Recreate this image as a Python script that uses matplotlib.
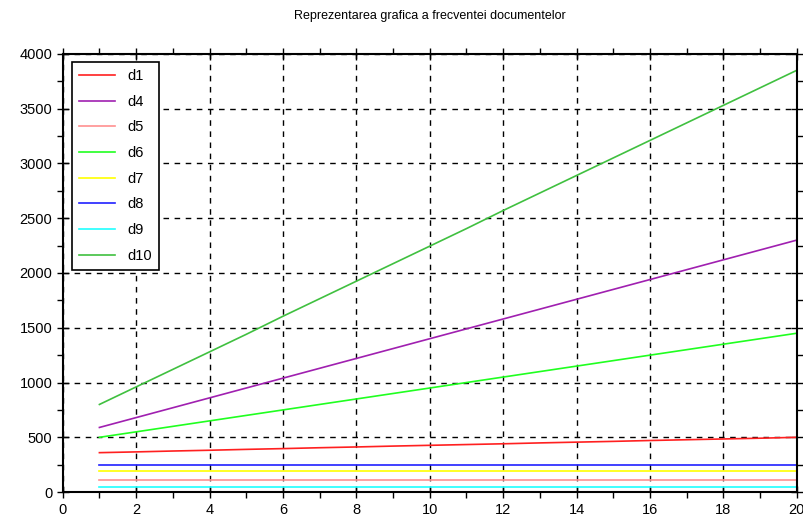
import matplotlib
matplotlib.use("Agg")
import matplotlib.pyplot as plt
from matplotlib.ticker import MultipleLocator

x = list(range(1, 21))
d1 = [360, 367, 375, 382, 390, 397, 405, 412, 420, 427, 434, 441, 449, 456, 463, 471, 478, 485, 492, 500]
d4 = [590, 680, 770, 860, 950, 1040, 1130, 1220, 1310, 1400, 1490, 1580, 1670, 1760, 1850, 1940, 2030, 2120, 2210, 2300]
d5 = [115] * 20
d6 = [500, 550, 600, 650, 700, 750, 800, 850, 900, 950, 1000, 1050, 1100, 1150, 1200, 1250, 1300, 1350, 1400, 1450]
d7 = [197] * 20
d8 = [245] * 20
d9 = [43] * 20
d10 = [800, 960, 1120, 1280, 1440, 1605, 1765, 1925, 2085, 2245, 2405, 2570, 2730, 2890, 3050, 3210, 3370, 3530, 3690, 3850]

series = [("d1", d1, "#ff2020"), ("d4", d4, "#a020b0"), ("d5", d5, "#ff9090"),
          ("d6", d6, "#20ff20"), ("d7", d7, "#ffff00"), ("d8", d8, "#2020ff"),
          ("d9", d9, "#20ffff"), ("d10", d10, "#40c040")]

plt.rcParams['font.family'] = ['Liberation Sans', 'DejaVu Sans']
fig = plt.figure(figsize=(8.04, 5.18), dpi=100)
ax = fig.add_axes([0.078, 0.05, 0.913, 0.846])
for name, vals, c in series:
    ax.plot(x, vals, color=c, lw=1.2, label=name)

ax.set_xlim(0, 20)
ax.set_ylim(0, 4000)
ax.xaxis.set_major_locator(MultipleLocator(2))
ax.xaxis.set_minor_locator(MultipleLocator(1))
ax.yaxis.set_major_locator(MultipleLocator(500))
ax.yaxis.set_minor_locator(MultipleLocator(250))
ax.grid(True, which='major', color='black', linestyle=(0, (4, 4)), linewidth=1)
ax.tick_params(which='major', direction='inout', length=8, width=1, labelsize=10.5, colors='black')
ax.tick_params(which='minor', direction='out', length=4, width=1)
ax.tick_params(top=True, right=True, which='both', labeltop=False, labelright=False)
for s in ax.spines.values():
    s.set_linewidth(1.5)
ax.set_title("Reprezentarea grafica a frecventei documentelor", fontsize=9, pad=25)

leg = ax.legend(loc='upper left', fancybox=False, edgecolor='black', framealpha=1,
                fontsize=10.5, handlelength=2.5, labelspacing=0.8, borderpad=0.5,
                handletextpad=0.8, borderaxespad=0, bbox_to_anchor=(0.012, 0.982))
leg.get_frame().set_linewidth(1.2)

fig.savefig("out.png", dpi=100)
